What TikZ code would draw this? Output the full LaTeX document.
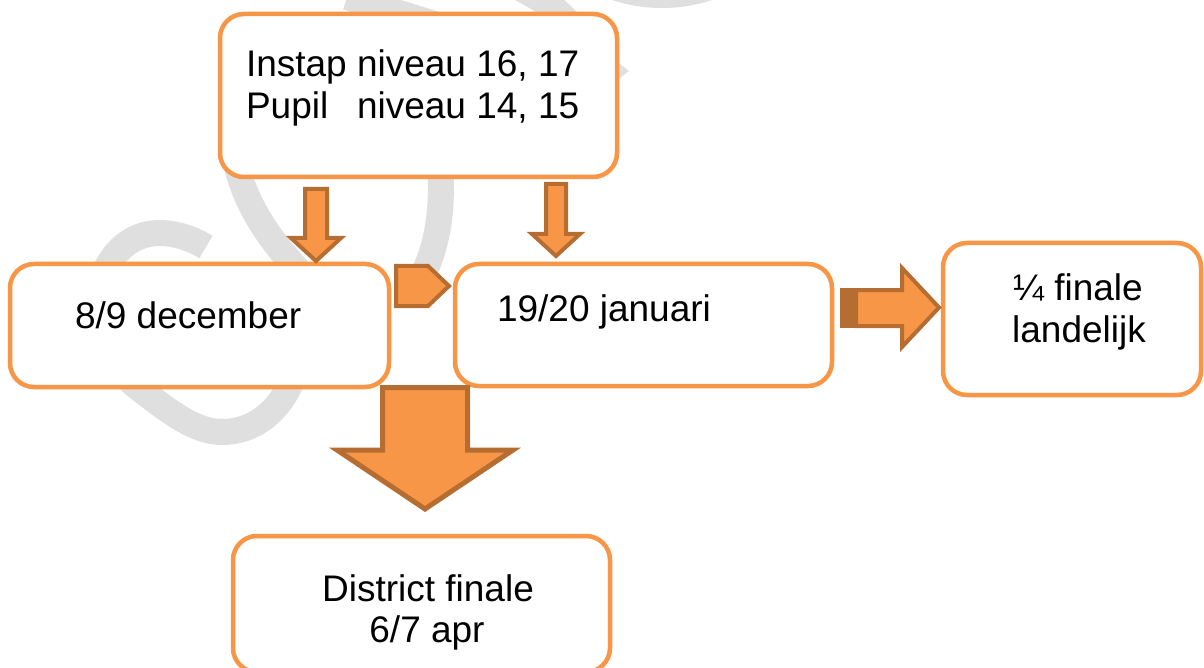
\documentclass[tikz,border=0pt]{standalone}
\usepackage{fontspec}
\setmainfont{Liberation Sans}
\definecolor{orng}{HTML}{F79646}
\definecolor{orngdk}{HTML}{B66D31}
\definecolor{wm}{HTML}{DFDFDF}
\begin{document}
\begin{tikzpicture}[x=1pt,y=-1pt,
  box/.style={draw=orng,line width=4.5pt,fill=white,rounded corners=24pt,inner sep=0pt,outer sep=0pt},
  txt/.style={inner sep=0pt,outer sep=0pt,font=\fontsize{37pt}{42pt}\selectfont},
  wmark/.style={draw=wm,line width=26pt},
  blockarrow/.style={draw=orngdk,fill=orng,line width=4pt,line join=miter},
]
\path[use as bounding box] (0,0) rectangle (1204,668);
\clip (0,0) rectangle (1204,668);
\fill[white] (0,0) rectangle (1204,668);
% watermark
\draw[wmark] (206,247) .. controls (178,230) and (135,222) .. (110,262) .. controls (85,300) and (100,360) .. (141,390) .. controls (170,412) and (195,432) .. (222,432) .. controls (255,432) and (280,410) .. (292,380) .. controls (300,350) and (300,320) .. (300,300);
\draw[wmark] (232,140) .. controls (238,190) and (260,230) .. (300,272) -- (340,305);
\draw[wmark] (440,140) .. controls (440,180) and (448,230) .. (418,285);
\draw[wmark] (347,-3) -- (480,38);
\draw[wmark] (515,-15) .. controls (560,10) .. (600,60);
\draw[wmark] (662,-152) circle[radius=147pt];
\fill[wm] (612,58) -- (629,71) -- (612,84) -- cycle;
% boxes
\node[box,minimum width=397pt,minimum height=163pt] (top) at (418.5,95.5) {};
\node[box,minimum width=379pt,minimum height=123pt] (dec) at (199.5,325.5) {};
\node[box,minimum width=377pt,minimum height=122pt] (jan) at (643.5,325) {};
\node[box,minimum width=258pt,minimum height=152pt] (kwart) at (1072,319) {};
\node[box,minimum width=377pt,minimum height=136pt] (dist) at (421.5,604) {};
% block arrows
\draw[blockarrow] (305,189) -- (327,189) -- (327,238) -- (341,238) -- (316,261) -- (291,238) -- (305,238) -- cycle;
\draw[blockarrow] (546,184) -- (566,184) -- (566,234) -- (580,234) -- (556,256) -- (532,234) -- (546,234) -- cycle;
\draw[blockarrow] (396,266) -- (428,266) -- (449,286) -- (428,306) -- (396,306) -- cycle;
\draw[blockarrow,line width=5pt] (382.5,387.5) -- (467.5,387.5) -- (467.5,450) -- (513,450) -- (425,509) -- (337,450) -- (382.5,450) -- cycle;
\fill[orngdk] (840,288) rectangle (858,328);
\draw[blockarrow] (856,290) -- (902,290) -- (902,268) -- (939,307.5) -- (902,347) -- (902,326) -- (856,326) -- cycle;
% texts
\node[txt,anchor=base west] (t1) at (246,77) {Instap niveau 16, 17};
\node[txt,anchor=base west] (t2) at (246,119) {\settowidth{\dimen0}{Instap }\makebox[\dimen0][l]{Pupil}niveau 14, 15};
\node[txt,anchor=base west] (tdec) at (75,328) {8/9 december};
\node[txt,anchor=base west] (tjan) at (497,321) {19/20 januari};
\node[txt,anchor=base] (tk1) at (1078,301) {¼ finale};
\node[txt,anchor=base] (tk2) at (1079,342) {landelijk};
\node[txt,anchor=base] (td1) at (428,601) {District finale};
\node[txt,anchor=base] (td2) at (427,642) {6/7 apr};
\end{tikzpicture}
\end{document}
